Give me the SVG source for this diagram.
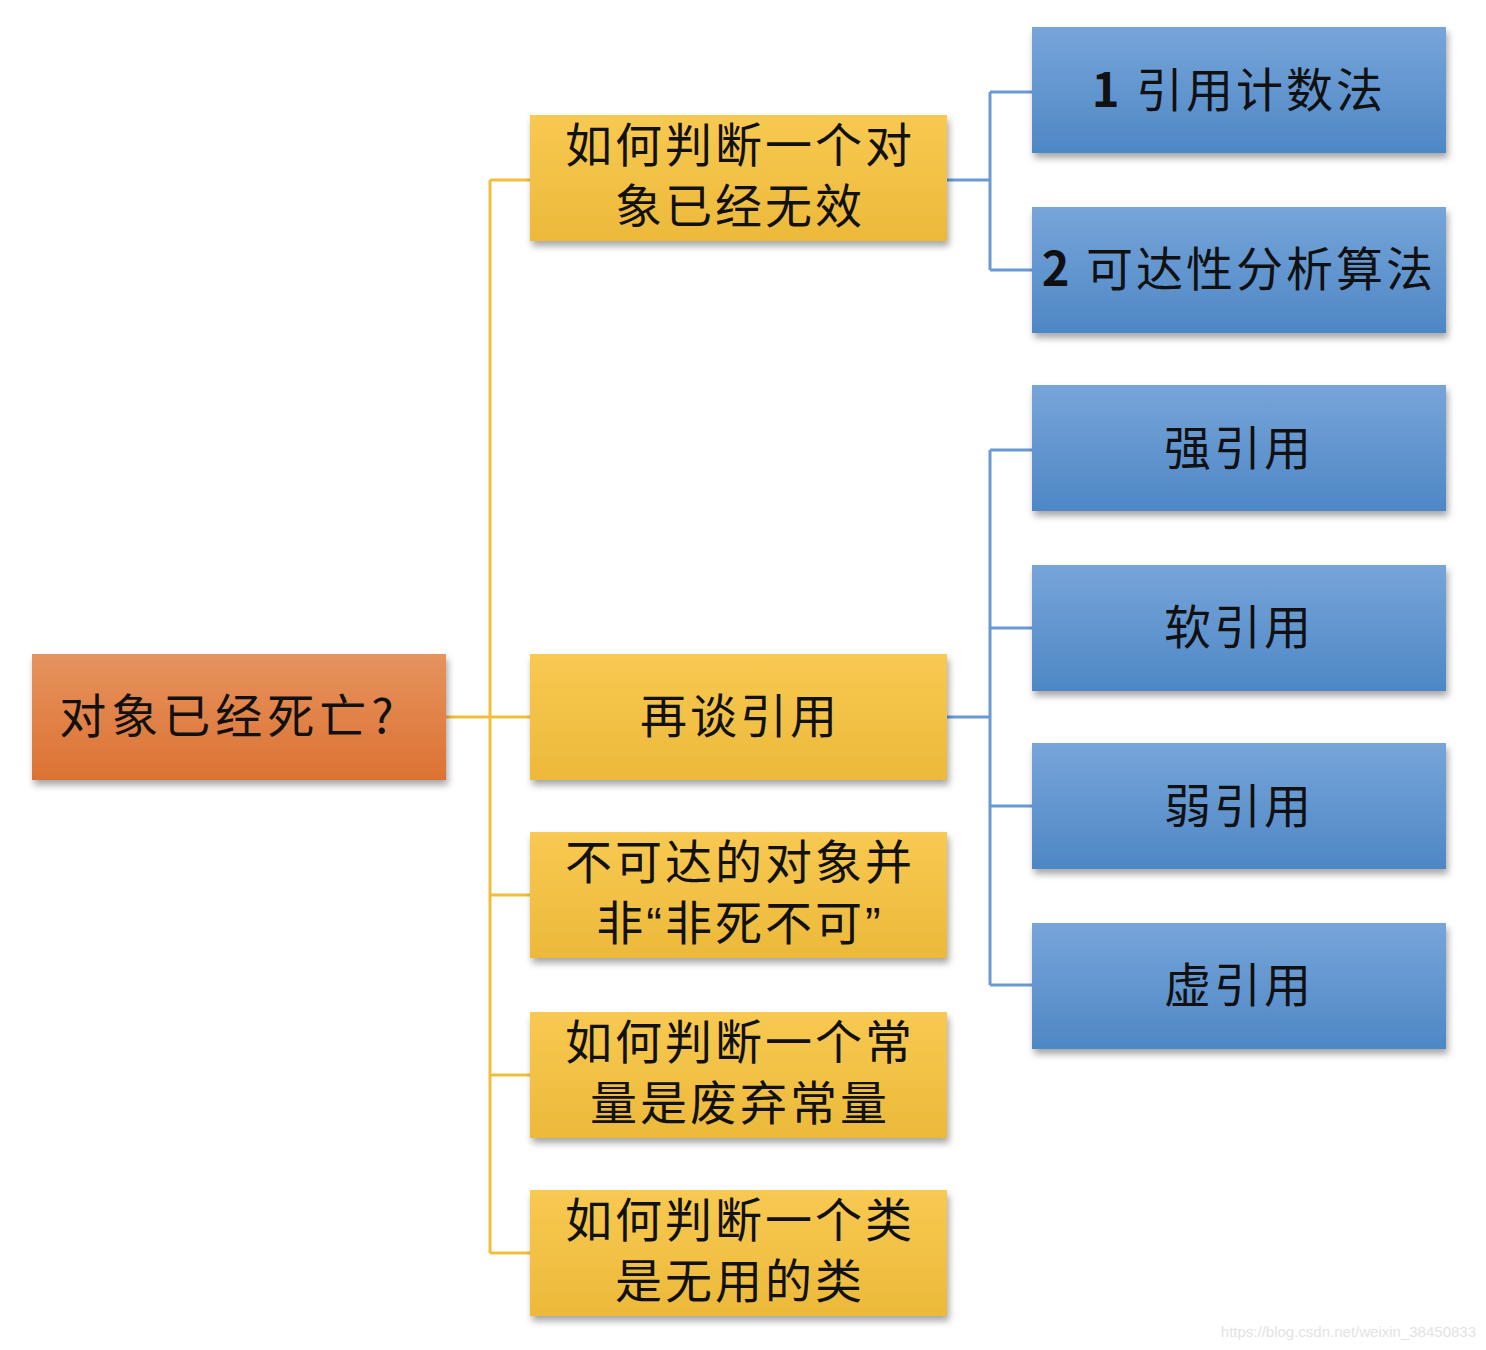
<svg xmlns="http://www.w3.org/2000/svg" width="1486" height="1350" viewBox="0 0 1486 1350">
<defs>
<linearGradient id="gOrange" x1="0" y1="0" x2="0" y2="1"><stop offset="0" stop-color="#E6935F"/><stop offset="1" stop-color="#DC7232"/></linearGradient>
<linearGradient id="gYellow" x1="0" y1="0" x2="0" y2="1"><stop offset="0" stop-color="#F8C952"/><stop offset="1" stop-color="#ECB93A"/></linearGradient>
<linearGradient id="gBlue" x1="0" y1="0" x2="0" y2="1"><stop offset="0" stop-color="#77A5DA"/><stop offset="1" stop-color="#4E87C5"/></linearGradient>
<filter id="sh" x="-10%" y="-10%" width="125%" height="135%"><feDropShadow dx="2" dy="5" stdDeviation="3.5" flood-color="#000" flood-opacity="0.35"/></filter>
</defs>
<style>
.t{font-family:"Noto Sans CJK SC","Liberation Sans",sans-serif;font-size:47px;fill:#111;text-anchor:middle;letter-spacing:3px}
.q{font-family:"Liberation Sans",sans-serif}
.y{stroke:#F3BD3C;stroke-width:3;fill:none}
.b{stroke:#6A9AD3;stroke-width:3;fill:none}
</style>
<rect width="1486" height="1350" fill="#fff"/>
<g id="connectors">
<path class="y" d="M446 717H530M490 180V1253M490 180H530M490 895H530M490 1075H530M490 1253H530"/>
<path class="b" d="M947 180H990M990 92V270M990 92H1032M990 270H1032M947 717H990M990 450V985M990 450H1032M990 628H1032M990 806H1032M990 985H1032"/>
</g>
<g id="root"><rect x="32" y="654" width="414" height="126" fill="url(#gOrange)" filter="url(#sh)"/><text class="t" x="229" y="733" style="letter-spacing:5px">对象已经死亡?</text></g>
<g id="n1"><rect x="530" y="115" width="417" height="126" fill="url(#gYellow)" filter="url(#sh)"/><text class="t" x="740" y="162">如何判断一个对</text><text class="t" x="740" y="223">象已经无效</text></g>
<g id="n2"><rect x="530" y="654" width="417" height="126" fill="url(#gYellow)" filter="url(#sh)"/><text class="t" x="740" y="733">再谈引用</text></g>
<g id="n3"><rect x="530" y="832" width="417" height="126" fill="url(#gYellow)" filter="url(#sh)"/><text class="t" x="740" y="879">不可达的对象并</text><text class="t" x="740" y="940">非<tspan class="q">“</tspan>非死不可<tspan class="q">”</tspan></text></g>
<g id="n4"><rect x="530" y="1012" width="417" height="126" fill="url(#gYellow)" filter="url(#sh)"/><text class="t" x="740" y="1059">如何判断一个常</text><text class="t" x="740" y="1120">量是废弃常量</text></g>
<g id="n5"><rect x="530" y="1190" width="417" height="126" fill="url(#gYellow)" filter="url(#sh)"/><text class="t" x="740" y="1237">如何判断一个类</text><text class="t" x="740" y="1298">是无用的类</text></g>
<g id="b1"><rect x="1032" y="27" width="414" height="126" fill="url(#gBlue)" filter="url(#sh)"/><text class="t" x="1239" y="107"><tspan font-weight="bold">1</tspan> 引用计数法</text></g>
<g id="b2"><rect x="1032" y="207" width="414" height="126" fill="url(#gBlue)" filter="url(#sh)"/><text class="t" x="1239" y="286"><tspan font-weight="bold">2</tspan> 可达性分析算法</text></g>
<g id="b3"><rect x="1032" y="385" width="414" height="126" fill="url(#gBlue)" filter="url(#sh)"/><text class="t" x="1239" y="465">强引用</text></g>
<g id="b4"><rect x="1032" y="565" width="414" height="126" fill="url(#gBlue)" filter="url(#sh)"/><text class="t" x="1239" y="644">软引用</text></g>
<g id="b5"><rect x="1032" y="743" width="414" height="126" fill="url(#gBlue)" filter="url(#sh)"/><text class="t" x="1239" y="823">弱引用</text></g>
<g id="b6"><rect x="1032" y="923" width="414" height="126" fill="url(#gBlue)" filter="url(#sh)"/><text class="t" x="1239" y="1002">虚引用</text></g>
<text x="1476" y="1337" font-family="Liberation Sans, sans-serif" font-size="15" fill="#E3E3E3" text-anchor="end">https://blog.csdn.net/weixin_38450833</text>
</svg>
